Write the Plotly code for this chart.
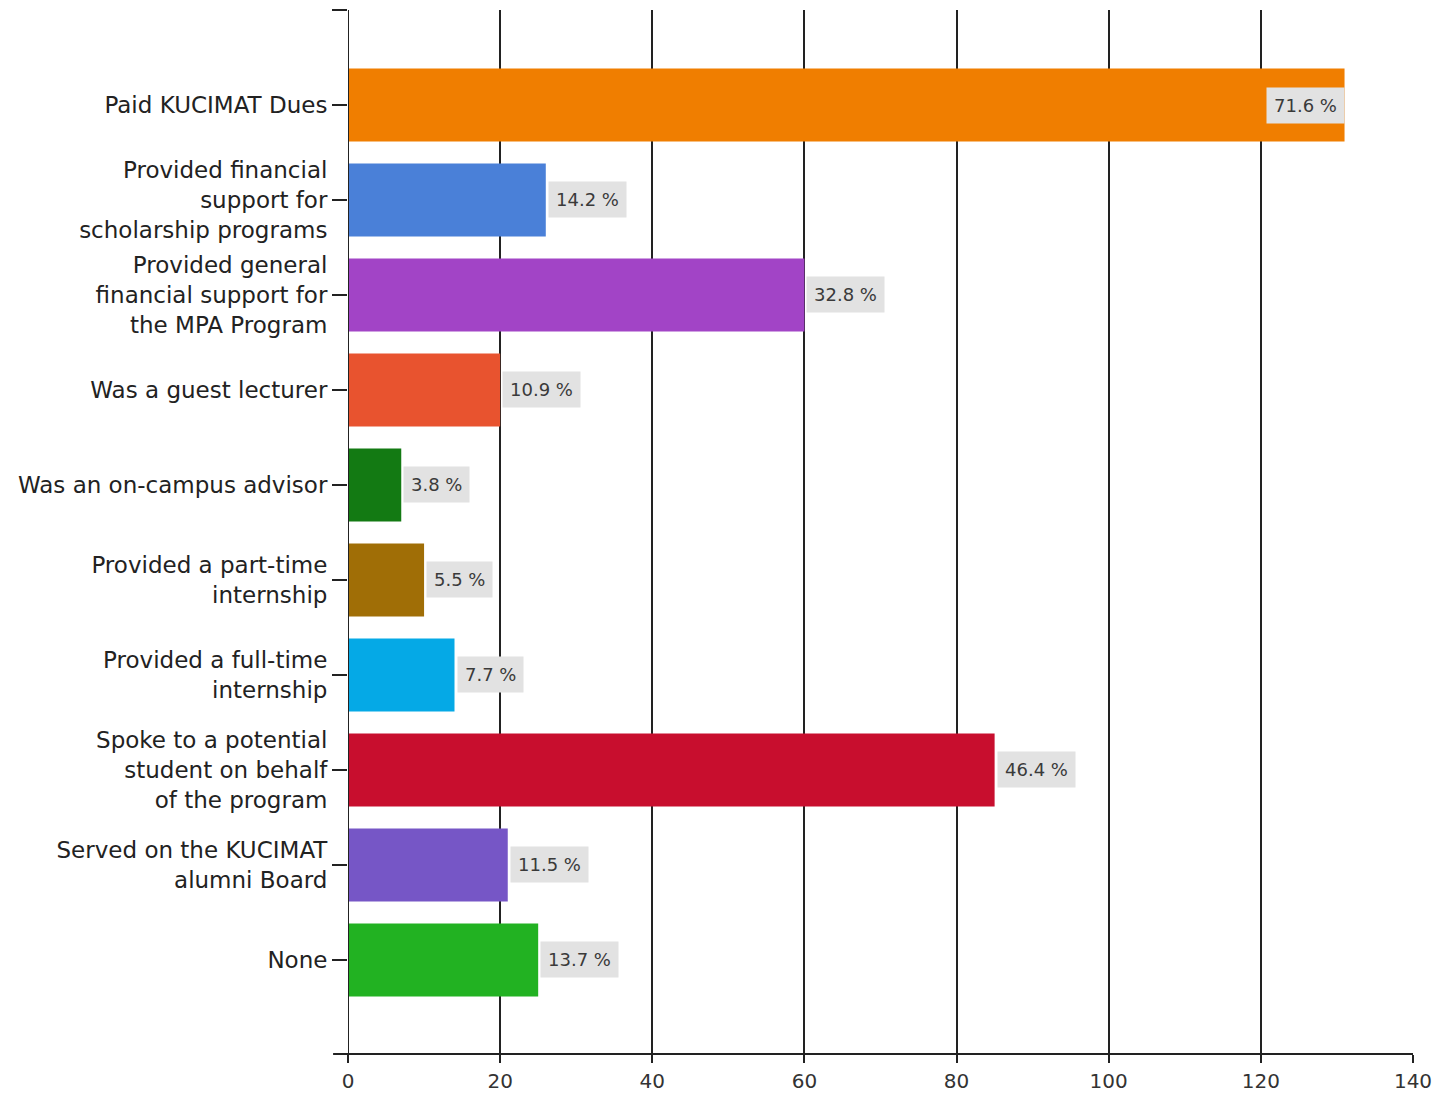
import plotly.graph_objects as go

categories = [
    "Paid KUCIMAT Dues",
    "Provided financial<br>support for<br>scholarship programs",
    "Provided general<br>financial support for<br>the MPA Program",
    "Was a guest lecturer",
    "Was an on-campus advisor",
    "Provided a part-time<br>internship",
    "Provided a full-time<br>internship",
    "Spoke to a potential<br>student on behalf<br>of the program",
    "Served on the KUCIMAT<br>alumni Board",
    "None",
]
counts = [131, 26, 60, 20, 7, 10, 14, 85, 21, 25]
percents = ["71.6 %", "14.2 %", "32.8 %", "10.9 %", "3.8 %", "5.5 %", "7.7 %", "46.4 %", "11.5 %", "13.7 %"]
colors = ["#F07E00", "#4A80D8", "#A244C6", "#E8532F", "#137A13", "#A06E06",
          "#05A9E6", "#C80E2E", "#7656C6", "#22B222"]
x_ticks = [0, 20, 40, 60, 80, 100, 120, 140]

pos = list(range(len(categories)))

fig = go.Figure()
fig.add_trace(go.Bar(
    x=counts, y=pos, orientation="h",
    marker=dict(color=colors, line=dict(width=0)),
    width=0.77, showlegend=False, hoverinfo="skip",
))

for i, (c, p) in enumerate(zip(counts, percents)):
    inside = i == 0
    fig.add_annotation(
        x=c, y=i, text=p, showarrow=False,
        xanchor="right" if inside else "left",
        xshift=0 if inside else 2,
        bgcolor="#E2E2E2", borderpad=7,
        font=dict(family="DejaVu Sans", size=18, color="#3A3A3A"),
    )

fig.update_layout(
    width=1426, height=1084,
    margin=dict(l=340, r=21, t=2, b=38, autoexpand=False),
    plot_bgcolor="white", paper_bgcolor="white",
    font=dict(family="DejaVu Sans", size=23, color="#222222"),
    xaxis=dict(
        range=[0, 140], tickvals=x_ticks, showgrid=True, gridcolor="#222222", gridwidth=2,
        zeroline=False, showline=False, ticks="outside", ticklen=8, tickwidth=2,
        tickcolor="#222222", tickfont=dict(size=20, color="#333333"),
        ticklabelstandoff=1, automargin=False,
    ),
    yaxis=dict(
        range=[9.99, -1.0], tickvals=[-1] + pos, ticktext=[""] + categories,
        showgrid=False, zeroline=False, showline=False,
        ticks="outside", ticklen=15, tickwidth=2, tickcolor="#222222",
        tickfont=dict(size=23, color="#222222"), automargin=False,
    ),
)
# axis lines
fig.add_shape(type="line", xref="x", yref="paper", x0=0, x1=0, y0=0, y1=1,
              line=dict(color="#222222", width=2))
fig.add_shape(type="line", xref="paper", yref="paper", x0=-0.014, x1=1, y0=0, y1=0,
              line=dict(color="#222222", width=2))

fig.write_html("out.html")
